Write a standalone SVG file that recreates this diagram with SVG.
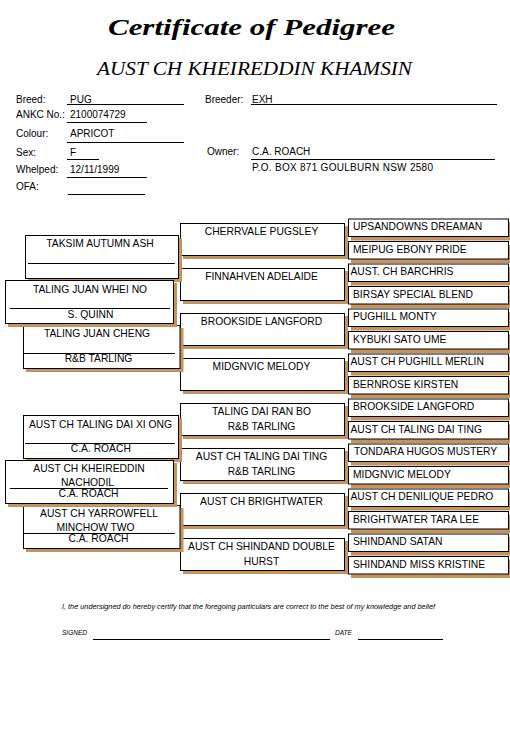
<svg xmlns="http://www.w3.org/2000/svg" width="510" height="730" viewBox="0 0 510 730">
<style>
.t{font-family:"Liberation Sans",Arial,sans-serif;font-size:10px;fill:#000}
.g2 .t,.g3 .t,.g1 .t{font-size:10.3px}
.c{text-anchor:middle}
.box{fill:#fff;stroke:#000;stroke-width:1}
.sh{fill:#C4935E;stroke:none}
.ln{stroke:#000;stroke-width:1;fill:none}
.ttl{font-family:"Liberation Serif","DejaVu Serif",serif;font-style:italic;font-weight:bold;font-size:24px;fill:#000}
.sub{font-family:"Liberation Serif","DejaVu Serif",serif;font-style:italic;font-size:18px;fill:#000}
.ft{font-family:"Liberation Sans",Arial,sans-serif;font-style:italic;font-size:6.5px;fill:#000}
</style>
<rect width="510" height="730" fill="#fff"/>
<g id="title">
<text class="ttl" x="108" y="35" textLength="287" lengthAdjust="spacingAndGlyphs">Certificate of Pedigree</text>
<text class="sub" x="97" y="75" textLength="315" lengthAdjust="spacingAndGlyphs">AUST CH KHEIREDDIN KHAMSIN</text>
</g>
<g id="header">
<text class="t" x="16" y="103">Breed:</text><text class="t" x="70" y="103">PUG</text><line class="ln" x1="67" y1="104.5" x2="184" y2="104.5"/>
<text class="t" x="16" y="118">ANKC No.:</text><text class="t" x="70" y="118">2100074729</text><line class="ln" x1="67" y1="122.5" x2="147" y2="122.5"/>
<text class="t" x="16" y="137">Colour:</text><text class="t" x="70" y="137">APRICOT</text><line class="ln" x1="67" y1="142.5" x2="184" y2="142.5"/>
<text class="t" x="16" y="156">Sex:</text><text class="t" x="70" y="156">F</text><line class="ln" x1="67" y1="159.5" x2="99" y2="159.5"/>
<text class="t" x="16" y="173">Whelped:</text><text class="t" x="70" y="173">12/11/1999</text><line class="ln" x1="67" y1="177.5" x2="147" y2="177.5"/>
<text class="t" x="16" y="190">OFA:</text><line class="ln" x1="68" y1="194.5" x2="145" y2="194.5"/>
<text class="t" x="205" y="103">Breeder:</text><text class="t" x="252" y="103">EXH</text><line class="ln" x1="251" y1="104.5" x2="497" y2="104.5"/>
<text class="t" x="207" y="155">Owner:</text><text class="t" x="252" y="155">C.A. ROACH</text><line class="ln" x1="251" y1="159.5" x2="495" y2="159.5"/>
<text class="t" x="252" y="171" textLength="181">P.O. BOX 871 GOULBURN NSW 2580</text>
</g>
<g id="gen2" class="g2">
<g id="m1"><rect class="sh" x="183" y="226" width="165" height="33"/><rect class="box" x="180.5" y="223.5" width="164" height="32"/><text class="t c" x="261.5" y="234.5">CHERRVALE PUGSLEY</text></g>
<g id="m2"><rect class="sh" x="183" y="271" width="165" height="33"/><rect class="box" x="180.5" y="268.5" width="164" height="32"/><text class="t c" x="261.5" y="279.5">FINNAHVEN ADELAIDE</text></g>
<g id="m3"><rect class="sh" x="183" y="316" width="165" height="33"/><rect class="box" x="180.5" y="313.5" width="164" height="32"/><text class="t c" x="261.5" y="324.5">BROOKSIDE LANGFORD</text></g>
<g id="m4"><rect class="sh" x="183" y="361" width="165" height="33"/><rect class="box" x="180.5" y="358.5" width="164" height="32"/><text class="t c" x="261.5" y="369.5">MIDGNVIC MELODY</text></g>
<g id="m5"><rect class="sh" x="183" y="406" width="165" height="33"/><rect class="box" x="180.5" y="403.5" width="164" height="32"/><text class="t c" x="261.5" y="414.5">TALING DAI RAN BO</text><text class="t c" x="261.5" y="429.5">R&amp;B TARLING</text></g>
<g id="m6"><rect class="sh" x="183" y="451" width="165" height="33"/><rect class="box" x="180.5" y="448.5" width="164" height="32"/><text class="t c" x="261.5" y="459.5">AUST CH TALING DAI TING</text><text class="t c" x="261.5" y="474.5">R&amp;B TARLING</text></g>
<g id="m7"><rect class="sh" x="183" y="496" width="165" height="33"/><rect class="box" x="180.5" y="493.5" width="164" height="32"/><text class="t c" x="261.5" y="504.5">AUST CH BRIGHTWATER</text></g>
<g id="m8"><rect class="sh" x="183" y="541" width="165" height="33"/><rect class="box" x="180.5" y="538.5" width="164" height="32"/><text class="t c" x="261.5" y="549.5">AUST CH SHINDAND DOUBLE</text><text class="t c" x="261.5" y="564.5">HURST</text></g>
</g>
<g id="gen3" class="g3">
<g id="r1"><rect class="sh" x="351" y="222" width="161" height="18.5"/><rect class="box" x="348.5" y="219" width="160" height="17.5"/><text class="t" x="353" y="230">UPSANDOWNS DREAMAN</text></g>
<g id="r2"><rect class="sh" x="351" y="244.5" width="161" height="18.5"/><rect class="box" x="348.5" y="241.5" width="160" height="17.5"/><text class="t" x="353" y="252.5">MEIPUG EBONY PRIDE</text></g>
<g id="r3"><rect class="sh" x="351" y="267" width="161" height="18.5"/><rect class="box" x="348.5" y="264" width="160" height="17.5"/><text class="t" x="350.5" y="275">AUST. CH BARCHRIS</text></g>
<g id="r4"><rect class="sh" x="351" y="289.5" width="161" height="18.5"/><rect class="box" x="348.5" y="286.5" width="160" height="17.5"/><text class="t" x="353" y="297.5">BIRSAY SPECIAL BLEND</text></g>
<g id="r5"><rect class="sh" x="351" y="312" width="161" height="18.5"/><rect class="box" x="348.5" y="309" width="160" height="17.5"/><text class="t" x="353" y="320">PUGHILL MONTY</text></g>
<g id="r6"><rect class="sh" x="351" y="334.5" width="161" height="18.5"/><rect class="box" x="348.5" y="331.5" width="160" height="17.5"/><text class="t" x="353" y="342.5">KYBUKI SATO UME</text></g>
<g id="r7"><rect class="sh" x="351" y="357" width="161" height="18.5"/><rect class="box" x="348.5" y="354" width="160" height="17.5"/><text class="t" x="350.5" y="365">AUST CH PUGHILL MERLIN</text></g>
<g id="r8"><rect class="sh" x="351" y="379.5" width="161" height="18.5"/><rect class="box" x="348.5" y="376.5" width="160" height="17.5"/><text class="t" x="353" y="387.5">BERNROSE KIRSTEN</text></g>
<g id="r9"><rect class="sh" x="351" y="402" width="161" height="18.5"/><rect class="box" x="348.5" y="399" width="160" height="17.5"/><text class="t" x="353" y="410">BROOKSIDE LANGFORD</text></g>
<g id="r10"><rect class="sh" x="351" y="424.5" width="161" height="18.5"/><rect class="box" x="348.5" y="421.5" width="160" height="17.5"/><text class="t" x="350.5" y="432.5">AUST CH TALING DAI TING</text></g>
<g id="r11"><rect class="sh" x="351" y="447" width="161" height="18.5"/><rect class="box" x="348.5" y="444" width="160" height="17.5"/><text class="t" x="354" y="455">TONDARA HUGOS MUSTERY</text></g>
<g id="r12"><rect class="sh" x="351" y="469.5" width="161" height="18.5"/><rect class="box" x="348.5" y="466.5" width="160" height="17.5"/><text class="t" x="353" y="477.5">MIDGNVIC MELODY</text></g>
<g id="r13"><rect class="sh" x="351" y="492" width="161" height="18.5"/><rect class="box" x="348.5" y="489" width="160" height="17.5"/><text class="t" x="350.5" y="500">AUST CH DENILIQUE PEDRO</text></g>
<g id="r14"><rect class="sh" x="351" y="514.5" width="161" height="18.5"/><rect class="box" x="348.5" y="511.5" width="160" height="17.5"/><text class="t" x="353" y="522.5">BRIGHTWATER TARA LEE</text></g>
<g id="r15"><rect class="sh" x="351" y="537" width="161" height="18.5"/><rect class="box" x="348.5" y="534" width="160" height="17.5"/><text class="t" x="353" y="545">SHINDAND SATAN</text></g>
<g id="r16"><rect class="sh" x="351" y="559.5" width="161" height="18.5"/><rect class="box" x="348.5" y="556.5" width="160" height="17.5"/><text class="t" x="353" y="567.5">SHINDAND MISS KRISTINE</text></g>
</g>
<g id="gen1" class="g1">
<g id="taksim"><rect class="sh" x="28" y="238" width="154" height="44"/><rect class="box" x="25.5" y="235.5" width="153" height="43"/><line class="ln" x1="28" y1="263.5" x2="175" y2="263.5"/><text class="t c" x="100" y="247">TAKSIM AUTUMN ASH</text></g>
<g id="cheng"><rect class="sh" x="26" y="328" width="157.5" height="44"/><rect class="box" x="23.5" y="325.5" width="156.5" height="43"/><line class="ln" x1="23.5" y1="353.5" x2="175" y2="353.5"/><text class="t c" x="97" y="337">TALING JUAN CHENG</text><text class="t c" x="98.5" y="362">R&amp;B TARLING</text></g>
<g id="wheino"><rect class="sh" x="8" y="283" width="169" height="44"/><rect class="box" x="5.5" y="280.5" width="168" height="43"/><line class="ln" x1="10" y1="308.5" x2="170" y2="308.5"/><text class="t c" x="90" y="292.5">TALING JUAN WHEI NO</text><text class="t c" x="90.5" y="317.5">S. QUINN</text></g>
<g id="xiong"><rect class="sh" x="26" y="418" width="156" height="44"/><rect class="box" x="23.5" y="415.5" width="155" height="43"/><line class="ln" x1="25" y1="443.5" x2="175" y2="443.5"/><text class="t c" x="100.5" y="427.5">AUST CH TALING DAI XI ONG</text><text class="t c" x="100.8" y="452">C.A. ROACH</text></g>
<g id="yarrowfell"><rect class="sh" x="26" y="508" width="157.5" height="44"/><rect class="box" x="23.5" y="505.5" width="156.5" height="43"/><line class="ln" x1="23.5" y1="533.5" x2="175" y2="533.5"/><text class="t c" x="99" y="517">AUST CH YARROWFELL</text><text class="t c" x="95.5" y="530.5">MINCHOW TWO</text><text class="t c" x="98.5" y="542">C.A. ROACH</text></g>
<g id="nachodil"><rect class="sh" x="8" y="463" width="169" height="44"/><rect class="box" x="5.5" y="460.5" width="168" height="43"/><line class="ln" x1="10" y1="488.5" x2="168" y2="488.5"/><text class="t c" x="89" y="472">AUST CH KHEIREDDIN</text><text class="t c" x="87.5" y="485.5">NACHODIL</text><text class="t c" x="88.5" y="497">C.A. ROACH</text></g>
</g>
<g id="footer">
<text class="ft" x="62" y="609" textLength="373" lengthAdjust="spacingAndGlyphs">I, the undersigned do hereby certify that the foregoing particulars are correct to the best of my knowledge and belief</text>
<text class="ft" x="62" y="635">SIGNED</text><line class="ln" x1="93" y1="639.5" x2="330" y2="639.5"/>
<text class="ft" x="335" y="635">DATE</text><line class="ln" x1="358" y1="639.5" x2="443" y2="639.5"/>
</g>
</svg>
